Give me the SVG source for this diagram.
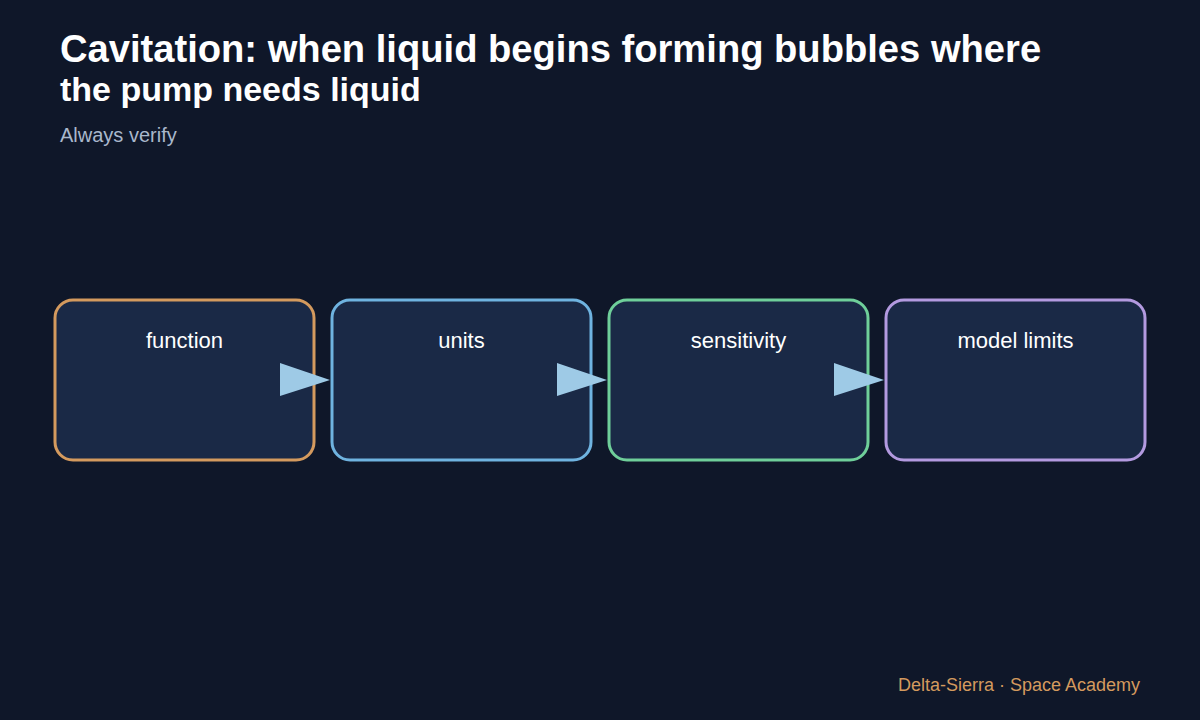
<svg xmlns="http://www.w3.org/2000/svg" width="1200" height="720" viewBox="0 0 1200 720">
<style>
.title{font-family:"Liberation Sans",Arial,sans-serif;font-weight:bold;fill:#ffffff}
.sub{font-family:"Liberation Sans",Arial,sans-serif;font-size:20px;fill:#a9b8cc}
.foot{font-family:"Liberation Sans",Arial,sans-serif;font-size:18px;fill:#d49a5e}
.box{fill:#1a2946;stroke-width:3}
.lbl{font-family:"Liberation Sans",Arial,sans-serif;font-size:22px;fill:#ffffff;text-anchor:middle}
.arr{fill:#9ecae6}
</style>
<rect width="1200" height="720" fill="#0f1729"/>
<text class="title" x="60" y="62" font-size="38.15">Cavitation: when liquid begins forming bubbles where</text>
<text class="title" x="60" y="101" font-size="34">the pump needs liquid</text>
<text class="sub" x="60" y="142">Always verify</text>
<g id="node-function">
<rect class="box" x="55" y="300" width="259" height="160" rx="18" stroke="#d49a5e"/>
<text class="lbl" x="184.5" y="348">function</text>
</g>
<g id="node-units">
<rect class="box" x="332" y="300" width="259" height="160" rx="18" stroke="#6fb3e0"/>
<text class="lbl" x="461.5" y="348">units</text>
</g>
<g id="node-sensitivity">
<rect class="box" x="609" y="300" width="259" height="160" rx="18" stroke="#6fcf9a"/>
<text class="lbl" x="738.5" y="348">sensitivity</text>
</g>
<g id="node-model-limits">
<rect class="box" x="886" y="300" width="259" height="160" rx="18" stroke="#b39ae0"/>
<text class="lbl" x="1015.5" y="348">model limits</text>
</g>
<g id="connectors">
<polygon class="arr" points="280,363 330,380 280,396"/>
<polygon class="arr" points="557,363 607,380 557,396"/>
<polygon class="arr" points="834,363 884,380 834,396"/>
</g>
<text class="foot" x="1140" y="691" text-anchor="end">Delta-Sierra · Space Academy</text>
</svg>
